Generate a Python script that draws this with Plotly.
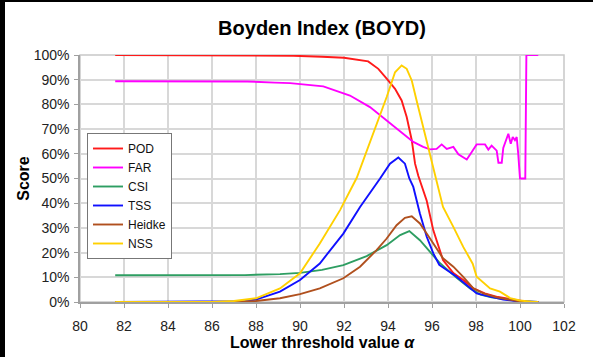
import plotly.graph_objects as go

# ---------------- data (values in %) ----------------
SERIES_NAMES = ["POD", "FAR", "CSI", "TSS", "Heidke", "NSS"]

POD_X = [81.6, 88.0, 89.7, 91.0, 92.0, 93.1, 93.56, 93.94, 94.32, 94.62, 94.85, 95.08,
         95.23, 95.38, 95.76, 96.06, 96.5, 96.97, 97.42, 97.88, 98.4, 99.0, 99.5, 100.0,
         100.3, 100.83]
POD_Y = [100, 100, 99.7, 99.3, 98.9, 97.4, 94.4, 90.4, 86.3, 81.6, 74.9, 65.5,
         56, 51, 41, 29, 17, 11.7, 8.9, 5.5, 3.5, 2, 1.2, 0.4,
         0.1, 0]

FAR_X = [81.6, 87.6, 88.86, 89.55, 91.06, 92.27, 93.18, 93.94, 94.55, 95.15, 95.6, 95.91,
         96.21, 96.44, 96.67, 96.97, 97.2, 97.58, 97.8, 98.03, 98.41, 98.56, 98.71, 98.94,
         99.02, 99.17, 99.24, 99.47, 99.58, 99.67, 99.77, 99.85, 99.92, 100.0, 100.24,
         100.25, 100.29, 100.83]
FAR_Y = [89.4, 89.3, 88.8, 88.6, 87.3, 83.6, 78.9, 73.5, 68.8, 64.8, 62.8, 61.8,
         62, 63.8, 62, 62.8, 59.8, 57.7, 60.6, 63.8, 63.8, 61.7, 63.3, 61.3,
         56.4, 56.4, 62.4, 68.1, 64.1, 66.8, 65.5, 66.8, 60, 50, 50,
         75, 100, 100]

CSI_X = [81.6, 87.5, 89.09, 90.0, 91.0, 91.97, 93.03, 93.94, 94.55, 94.97, 95.45, 95.91,
         96.33, 96.67, 97.12, 97.73, 98.2, 98.7, 99.2, 99.6, 100.0, 100.5, 100.83]
CSI_Y = [10.8, 10.9, 11.3, 11.8, 13.0, 14.9, 18.6, 23.0, 27.1, 28.7, 25.0, 20.3,
         16.0, 13.3, 9.8, 5.5, 3.0, 1.9, 1.2, 0.7, 0.3, 0.1, 0]

TSS_X = [81.6, 86.5, 87.5, 88.0, 89.09, 90.0, 90.9, 91.97, 92.73, 93.64, 94.09, 94.47,
         94.77, 94.97, 95.15, 95.45, 95.76, 96.06, 96.33, 97.12, 97.73, 98.03, 98.64,
         99.24, 100.0, 100.83]
TSS_Y = [0, 0, 0.3, 1.0, 4.2, 8.9, 15.6, 27.7, 38.5, 50.0, 56.0, 58.5,
         56.0, 50.0, 46.6, 35.8, 26.4, 19.7, 15.0, 10.2, 5.5, 3.5, 2.2,
         1.0, 0.2, 0]

HEIDKE_X = [81.6, 87.0, 88.0, 89.09, 90.0, 90.9, 91.97, 92.73, 93.48, 93.94, 94.39, 94.77,
            95.08, 95.45, 95.91, 96.33, 96.5, 96.97, 97.42, 97.88, 98.33, 98.94, 100.0, 100.83]
HEIDKE_Y = [0, 0, 0.4, 1.5, 3.2, 5.5, 9.6, 14.3, 21, 25.7, 31.1, 34.1,
            34.7, 31.8, 25.7, 20.3, 17.7, 14.3, 10.2, 5.5, 3.5, 1.9, 0.2, 0]

NSS_X = [81.6, 86.0, 87.0, 88.0, 89.09, 90.0, 90.9, 91.82, 92.58, 93.33, 93.94, 94.32,
         94.62, 94.85, 95.08, 95.3, 95.53, 95.76, 95.98, 96.21, 96.5, 96.97, 97.42, 97.85,
         98.03, 98.64, 99.09, 99.55, 100.0, 100.5, 100.83]
NSS_Y = [0, 0, 0.4, 1.5, 5.5, 11.6, 23.7, 37.2, 50.3, 68.2, 83.0, 93.0,
         95.8, 94.4, 89.7, 81.6, 73.5, 65.5, 57.4, 49, 38.5, 30.4, 22.3, 15.5,
         10.2, 5.5, 4.2, 1.6, 0.6, 0.1, 0]

X_TICKS = list(range(80, 103, 2))
Y_TICKS = list(range(0, 101, 10))

COLORS = ["#FF1A1A", "#FF00FF", "#2E9E62", "#1010FF", "#B0501E", "#FFD000"]

FONT = "Liberation Sans, Arial, sans-serif"

fig = go.Figure()
for name, xs, ys, col in zip(
        SERIES_NAMES,
        [POD_X, FAR_X, CSI_X, TSS_X, HEIDKE_X, NSS_X],
        [POD_Y, FAR_Y, CSI_Y, TSS_Y, HEIDKE_Y, NSS_Y],
        COLORS):
    fig.add_trace(go.Scatter(x=xs, y=ys, mode="lines", name=name,
                             line=dict(color=col, width=1.9)))

L, R, T, B = 80, 29, 55, 55
W, H = 593, 357
pw, ph = W - L - R, H - T - B

fig.update_layout(
    width=W, height=H,
    margin=dict(l=L, r=R, t=T, b=B, autoexpand=False),
    plot_bgcolor="white",
    font=dict(family=FONT, color="#222", size=14),
    title=dict(text="<b>Boyden Index (BOYD)</b>", x=0.5, xanchor="center",
               xref="paper", y=1 - 28 / H, yanchor="middle",
               font=dict(size=20, color="#000", family=FONT)),
    showlegend=True,
    legend=dict(x=(87 - L) / pw, y=(H - B - 133) / ph, xanchor="left", yanchor="top",
                bgcolor="white", bordercolor="#777", borderwidth=1,
                font=dict(size=12, color="#111", family=FONT),
                tracegroupgap=0, itemwidth=30),
    xaxis=dict(range=[80, 102], tickvals=X_TICKS, ticktext=[str(v) for v in X_TICKS],
               showgrid=True, gridcolor="#D8D8D8", gridwidth=1.5,
               showline=True, linecolor="#A0A0A0", linewidth=1.5,
               ticks="outside", ticklen=4, tickcolor="#A0A0A0",
               ticklabelstandoff=6,
               tickfont=dict(size=14, color="#222"),
               zeroline=False, automargin=False,
               title=dict(text="<b>Lower threshold value </b><b><i>α</i></b>",
                          font=dict(size=16, color="#000"), standoff=0)),
    yaxis=dict(range=[0, 100], tickvals=Y_TICKS, ticktext=[f"{v}%" for v in Y_TICKS],
               showgrid=True, gridcolor="#D8D8D8", gridwidth=1.5,
               showline=True, linecolor="#A0A0A0", linewidth=1.5,
               ticks="outside", ticklen=4, tickcolor="#A0A0A0",
               ticklabelstandoff=2,
               tickfont=dict(size=14, color="#222"),
               zeroline=False, automargin=False,
               title=dict(text="<b>Score</b>", font=dict(size=16, color="#000"),
                          standoff=0)),
)

# light frame of the plot area (right / top edges)
fig.add_shape(type="rect", xref="paper", yref="paper", x0=0, x1=1, y0=0, y1=1,
              line=dict(color="#C8C8C8", width=1.5), layer="below")
# black edges of the original picture (left strip, top line)
fig.add_shape(type="rect", xref="paper", yref="paper",
              x0=-L / pw, x1=(5 - L) / pw, y0=-B / ph, y1=(H - B) / ph,
              fillcolor="#000000", line=dict(width=0), layer="above")
fig.add_shape(type="rect", xref="paper", yref="paper",
              x0=-L / pw, x1=(W - L) / pw, y0=(H - B - 2) / ph, y1=(H - B) / ph,
              fillcolor="#000000", line=dict(width=0), layer="above")

# the page body has a default 8px margin; remove it so the figure fills the window
fig.write_html("out.html", config={"displayModeBar": False},
               post_script="document.body.style.margin='0';")
